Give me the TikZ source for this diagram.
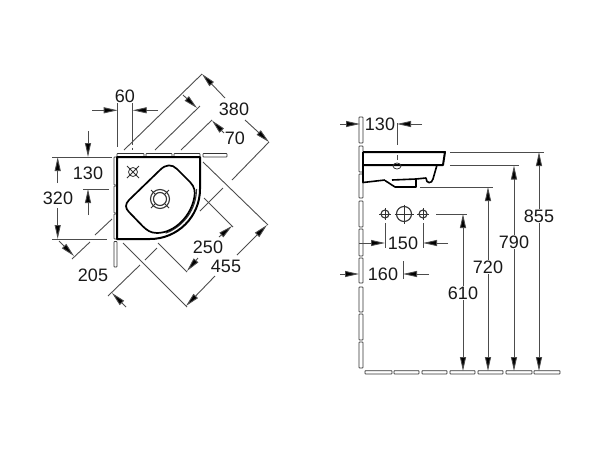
\documentclass[tikz,border=0pt]{standalone}
\usepackage{fontspec}
\setmainfont{Liberation Sans}
\usetikzlibrary{arrows.meta}
\begin{document}
\begin{tikzpicture}[x=1pt, y=-1pt]
      \tikzstyle{dim} = [draw=black!70, line width=0.9pt]
      \tikzstyle{dimarrow} = [dim, -{Triangle[length=14pt, width=6pt, fill=black]}]
      \tikzstyle{tile} = [draw=black!80, line width=0.8pt, fill=white, rounded corners=0.6pt]
      \tikzstyle{outline} = [draw=black, line width=2pt, line join=round]
      \tikzstyle{thin} = [draw=black!80, line width=0.8pt]
      \tikzstyle{dimlabel} = [inner sep=1pt, text=black!90, font=\fontsize{18}{20}\selectfont]
      \useasboundingbox (0,0) rectangle (600,450);

      %%%%%%%%%%%%%%%%%%%%%%%%%%%%%%
      %% The plan view
      %%%%%%%%%%%%%%%%%%%%%%%%%%%%%%
      \foreach \xa/\xb in {117/144, 146/172, 174/200, 203/227}
        \draw[tile] (\xa,153.5) rectangle (\xb,157);
      \foreach \ya/\yb in {157/185, 186/213, 214/239, 241.5/267}
        \draw[tile] (114,\ya) rectangle (117,\yb);

      \draw[outline] (117,157) -- (200,157) -- (200,189) arc[start angle=0, end angle=90, radius=50]
        -- (117,239) -- cycle;
      \draw[thin, line width=1.1pt] (196.5,189) arc[start angle=0, end angle=70, radius=47];
      % bowl
      \draw[outline, line width=1.7pt] (160,170) .. controls (166,164) and (172,164) .. (177,169)
        -- (190,182) .. controls (195,187) and (195,192) .. (194.5,196)
        .. controls (192,215) and (175,233) .. (157,233)
        .. controls (150,233) and (147,230) .. (143,226.5) -- (129,212)
        .. controls (125,208) and (125,204) .. (129,200) -- cycle;
      % drain and tap hole
      \draw[thin, line width=1.1pt] (160,199) circle[radius=9.5];
      \draw[thin, line width=1.1pt] (160,199) circle[radius=6.5];
      \draw[thin] (151,190) -- (156,195) (169,190) -- (164,195) (151,208) -- (156,203) (169,208) -- (164,203);
      \draw[thin] (133,172) circle[radius=4.5];
      \draw[thin] (127,166) -- (139,178) (139,166) -- (127,178);

      % extension lines
      \draw[dim] (117.7,103) -- (117.7,147);
      \draw[dim] (132.7,103) -- (132.7,145) (132.7,147.5) -- (132.7,150);
      \draw[dim] (52,157) -- (112,157);
      \draw[dim] (83,189) -- (109,189);
      \draw[dim] (52,239) -- (107,239);
      \draw[dim] (202,74) -- (124,150);
      \draw[dim] (200,106) -- (155,150);
      \draw[dim] (212,120) -- (181,150);
      \draw[dim] (269,142) -- (232,180) (223,188) -- (200,211);
      \draw[dim] (203,162) -- (268,225);
      \draw[dim] (204,198) -- (233,227);
      \draw[dim] (123,243) -- (187,307);
      \draw[dim] (158,243) -- (187,272);
      \draw[dim] (72,259) -- (90,242) (95,235) -- (112,219);
      \draw[dim] (108,296) -- (140,265) (145,260) -- (157,248);

      % dimension arrows
      \draw[dimarrow] (92,110.3) -- (117.7,110.3);
      \draw[dimarrow] (158,110.3) -- (132.7,110.3);
      \draw[dimarrow] (88,131) -- (88,157);
      \draw[dimarrow] (88,215) -- (88,189);
      \draw[dimarrow] (57.7,183) -- (57.7,157);
      \draw[dimarrow] (57.7,208) -- (57.7,239);
      \draw[dimarrow] (225,98) -- (202,74);
      \draw[dimarrow] (245,120) -- (269,142);
      \draw[dimarrow] (183,95) -- (197,108);
      \draw[dimarrow] (224,133) -- (212,120.5);
      \draw[dimarrow] (59,241) -- (74,256);
      \draw[dimarrow] (126,307) -- (112,293);
      \draw[dimarrow] (198,258) -- (187,271);
      \draw[dimarrow] (219,237) -- (232,226);
      \draw[dimarrow] (215,276) -- (186,306);
      \draw[dimarrow] (237,255) -- (267,225);

      \node[dimlabel] (l60) at (125,96) {60};
      \node[dimlabel] (l380) at (234,109) {380};
      \node[dimlabel] (l70) at (235,138) {70};
      \node[dimlabel] (l130a) at (88,173) {130};
      \node[dimlabel] (l320) at (58,198) {320};
      \node[dimlabel] (l205) at (93,275) {205};
      \node[dimlabel] (l250) at (208,247) {250};
      \node[dimlabel] (l455) at (226,266) {455};

      %%%%%%%%%%%%%%%%%%%%%%%%%%%%%%
      %% The side view
      %%%%%%%%%%%%%%%%%%%%%%%%%%%%%%
      \foreach \ya/\yb in {117/143, 146/172, 174/198, 201/227, 229/256, 258/283, 287/312, 314/340, 342/368}
        \draw[tile] (359,\ya) rectangle (363,\yb);
      \foreach \xa/\xb in {365/392, 394/419, 422/447, 450/475, 478/503, 506/532, 534/560}
        \draw[tile] (\xa,370.7) rectangle (\xb,374);

      \draw[outline] (363,152) -- (445,152) -- (443,165) -- (363,165);
      \draw[outline, line width=1.6pt] (363,152) -- (363,182.5) -- (385,180)
        (437,165) -- (433,179) .. controls (432,184) and (426,184) .. (426,178) -- (416,179)
        (385,180.5) -- (395,187) -- (416,187) -- (416,179) -- (392,180);
      \draw[thin] (397,166) ellipse[x radius=4, y radius=3];

      % holes
      \foreach \cx/\rad in {385/4, 404/7.5, 423/4} {
        \draw[thin, line width=1.1pt] (\cx,214) circle[radius=\rad];
        \draw[thin] (\cx-\rad-2,214) -- (\cx+\rad+2,214) (\cx,214-\rad-2) -- (\cx,214+\rad+2);
      }

      % extension lines
      \draw[dim] (397,123) -- (397,145) (397,155) -- (397,160);
      \draw[dim] (450,152) -- (544,152);
      \draw[dim] (450,165.5) -- (519,165.5);
      \draw[dim] (420,187) -- (493,187);
      \draw[dim] (436,214) -- (467,214);
      \draw[dim] (385,223) -- (385,248);
      \draw[dim] (423,223) -- (423,248);
      \draw[dim] (403,261) -- (403,279);

      % dimension arrows
      \draw[dimarrow] (340,124) -- (360,124);
      \draw[dimarrow] (422,124) -- (397,124);
      \draw[dimarrow] (359,243) -- (385,243);
      \draw[dimarrow] (448,243) -- (423,243);
      \draw[dimarrow] (340,274) -- (359,274);
      \draw[dimarrow] (429,274) -- (403,274);
      \foreach \px/\py in {463/214, 488/187, 514/165.5, 539/152} {
        \draw[dimarrow] (\px,280) -- (\px,\py);
        \draw[dimarrow] (\px,280) -- (\px,371);
      }

      \node[dimlabel] (l130b) at (380,124.5) {130};
      \node[dimlabel] (l150) at (403,243) {150};
      \node[dimlabel] (l160) at (383,274) {160};
      \node[dimlabel, fill=white] (l610) at (463,293) {610};
      \node[dimlabel, fill=white] (l720) at (488,267) {720};
      \node[dimlabel, fill=white] (l790) at (514,242) {790};
      \node[dimlabel, fill=white] (l855) at (539,216) {855};
    \end{tikzpicture}
\end{document}
